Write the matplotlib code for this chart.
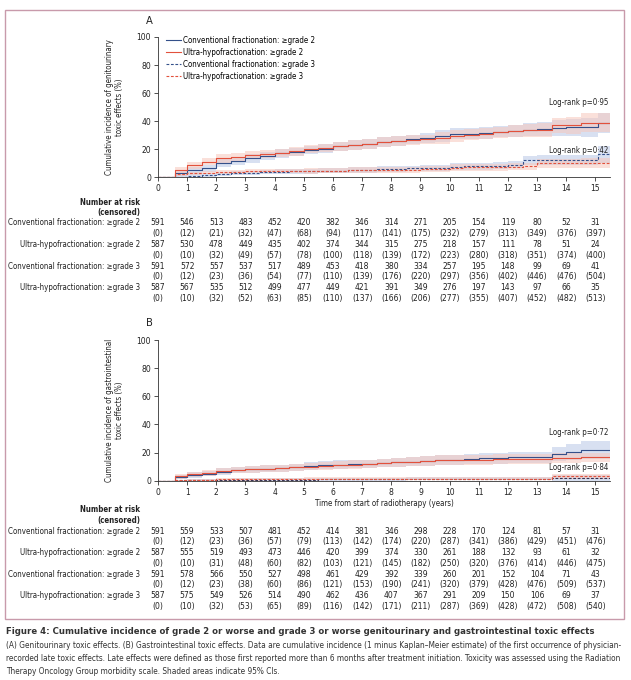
import matplotlib
matplotlib.use("Agg")
import matplotlib.pyplot as plt
import matplotlib.patches as patches
import matplotlib.transforms as transforms
from matplotlib import font_manager
import numpy as np

# look for a condensed face; the original uses a narrow journal font
narrow = None
for fam in ['Liberation Sans Narrow', 'Noto Sans', 'DejaVu Sans', 'Open Sans', 'Roboto', 'Lato', 'Inter']:
    for f in font_manager.fontManager.ttflist:
        if f.name == fam and f.stretch in ('condensed', 'semi-condensed', 'extra-condensed'):
            narrow = (fam, f.stretch)
            break
    if narrow:
        break
if narrow:
    plt.rcParams['font.family'] = [narrow[0], 'DejaVu Sans']
    plt.rcParams['font.stretch'] = narrow[1]
else:
    plt.rcParams['font.family'] = ['Liberation Sans', 'DejaVu Sans']

# ---- data ----
t = [0, 0.5, 0.6, 1, 1.5, 2, 2.5, 3, 3.5, 4, 4.5, 5, 5.5, 6, 6.5, 7, 7.5, 8,
     8.5, 9, 9.5, 10, 10.5, 11, 11.5, 12, 12.5, 13, 13.5, 14, 14.5, 15.1, 15.5]

# A: genitourinary
gu_conv_g2 = [0, 0, 3, 5, 6.5, 10, 11.5, 13.5, 15, 17, 18, 19.5, 20.5, 22, 23, 24, 25, 26,
              27, 28, 29.5, 31, 31, 31.5, 32.5, 33, 34, 34.5, 35, 35.5, 35.5, 38.5, 38.5]
gu_ultra_g2 = [0, 0, 5, 8.5, 11, 13.5, 14.5, 16, 16.5, 17.5, 18.5, 20, 21, 22, 23, 24, 25, 26,
               26.5, 27, 28, 29.5, 30.5, 31, 32, 33, 33.5, 34, 37, 37, 39, 39, 39]
gu_conv_g3 = [0, 0, 0.5, 1.2, 1.8, 2.4, 2.8, 3.3, 3.6, 4, 4.2, 4.3, 4.6, 4.8, 5, 5.2, 5.7, 6.2,
              6.3, 6.5, 6.8, 7.5, 7.8, 8, 8.3, 9, 12, 12.3, 12.3, 12.3, 12.3, 16.5, 16.5]
gu_ultra_g3 = [0, 0, 2, 2.9, 3.3, 3.8, 4, 4.3, 4.4, 4.5, 4.5, 4.5, 4.6, 4.8, 5, 5, 5.1, 5.2,
               5.5, 5.8, 6.2, 6.9, 7, 7.2, 7.3, 7.5, 7.8, 10, 10, 10, 10, 10, 10]
gu_hw_g2 = [0, 0, 2, 2.5, 2.5, 3, 3, 3, 3, 3, 3, 3, 3, 3, 3.5, 3.5, 3.5, 3.5,
            3.5, 3.5, 4, 4, 4, 4, 4, 4.5, 4.5, 5, 5.5, 6, 6.5, 7, 7]
gu_hw_conv_g3 = [0, 0, 1, 1.2, 1.3, 1.5, 1.5, 1.5, 1.6, 1.7, 1.7, 1.8, 1.8, 1.9, 2, 2, 2, 2.1,
                 2.1, 2.2, 2.2, 2.4, 2.4, 2.5, 2.5, 2.7, 3.5, 3.5, 3.5, 3.5, 3.5, 6, 6]
gu_hw_ultra_g3 = [0, 0, 1, 1.2, 1.3, 1.5, 1.5, 1.5, 1.6, 1.7, 1.7, 1.8, 1.8, 1.9, 2, 2, 2, 2.1,
                  2.1, 2.2, 2.2, 2.4, 2.4, 2.5, 2.5, 2.6, 2.6, 3.2, 3.2, 3.3, 3.4, 3.5, 3.5]

# B: gastrointestinal
gi_conv_g2 = [0, 0, 2.5, 4, 5, 6.5, 7.5, 8, 8.5, 9, 9.5, 10.5, 11, 11.5, 12, 12, 12.5, 13,
              13.5, 14, 14.5, 15, 15.5, 16, 16, 16.5, 16.5, 16.5, 19, 20.5, 22, 22, 22]
gi_ultra_g2 = [0, 0, 3, 4.5, 5.5, 7, 7.5, 8, 8.5, 9, 9.5, 10, 10.5, 11, 11.5, 12, 12.5, 13,
               13.5, 14, 14.5, 14.5, 15, 15, 15.5, 15.5, 15.5, 15.5, 16, 16, 16.5, 16.5, 16.5]
gi_conv_g3 = [0, 0, 0.3, 0.5, 0.5, 0.5, 0.7, 0.7, 0.7, 0.8, 0.8, 0.8, 1, 1, 1, 1, 1, 1,
              1.5, 1.5, 1.5, 1.5, 1.5, 1.5, 1.5, 1.5, 1.5, 1.5, 2, 2, 2, 2, 2]
gi_ultra_g3 = [0, 0, 0.2, 0.5, 0.7, 1, 1, 1, 1.2, 1.2, 1.2, 1.5, 1.5, 1.5, 1.5, 1.5, 1.5, 1.5,
               1.5, 1.5, 1.5, 1.5, 1.5, 1.5, 1.5, 1.5, 1.5, 1.5, 3, 3, 3, 3, 3]
gi_hw_conv_g2 = [0, 0, 1.5, 2, 2, 2.2, 2.3, 2.4, 2.5, 2.5, 2.6, 2.7, 2.8, 2.9, 3, 3, 3.1, 3.2,
                 3.3, 3.4, 3.5, 3.6, 3.7, 3.8, 3.9, 4, 4.1, 4.2, 5, 5.5, 6.5, 6.5, 6.5]
gi_hw_ultra_g2 = [0, 0, 1.5, 2, 2, 2.2, 2.3, 2.4, 2.5, 2.5, 2.6, 2.7, 2.8, 2.9, 3, 3, 3.1, 3.2,
                  3.3, 3.4, 3.5, 3.5, 3.5, 3.5, 3.5, 3.5, 3.5, 3.5, 3.5, 3.5, 3.5, 3.5, 3.5]
gi_hw_g3 = [0, 0, 0.5, 0.8, 0.8, 0.9, 1, 1, 1, 1, 1, 1.1, 1.1, 1.1, 1.1, 1.1, 1.1, 1.1,
            1.3, 1.3, 1.3, 1.3, 1.3, 1.3, 1.3, 1.3, 1.3, 1.3, 2, 2, 2, 2, 2]

years = list(range(16))
row_labels = ["Conventional fractionation: \u2265grade 2", "Ultra-hypofractionation: \u2265grade 2",
              "Conventional fractionation: \u2265grade 3", "Ultra-hypofractionation: \u2265grade 3"]

gu_risk = [[591, 546, 513, 483, 452, 420, 382, 346, 314, 271, 205, 154, 119, 80, 52, 31],
           [587, 530, 478, 449, 435, 402, 374, 344, 315, 275, 218, 157, 111, 78, 51, 24],
           [591, 572, 557, 537, 517, 489, 453, 418, 380, 334, 257, 195, 148, 99, 69, 41],
           [587, 567, 535, 512, 499, 477, 449, 421, 391, 349, 276, 197, 143, 97, 66, 35]]
gu_cens = [[0, 12, 21, 32, 47, 68, 94, 117, 141, 175, 232, 279, 313, 349, 376, 397],
           [0, 10, 32, 49, 57, 78, 100, 118, 139, 172, 223, 280, 318, 351, 374, 400],
           [0, 12, 23, 36, 54, 77, 110, 139, 176, 220, 297, 356, 402, 446, 476, 504],
           [0, 10, 32, 52, 63, 85, 110, 137, 166, 206, 277, 355, 407, 452, 482, 513]]
gi_risk = [[591, 559, 533, 507, 481, 452, 414, 381, 346, 298, 228, 170, 124, 81, 57, 31],
           [587, 555, 519, 493, 473, 446, 420, 399, 374, 330, 261, 188, 132, 93, 61, 32],
           [591, 578, 566, 550, 527, 498, 461, 429, 392, 339, 260, 201, 152, 104, 71, 43],
           [587, 575, 549, 526, 514, 490, 462, 436, 407, 367, 291, 209, 150, 106, 69, 37]]
gi_cens = [[0, 12, 23, 36, 57, 79, 113, 142, 174, 220, 287, 341, 386, 429, 451, 476],
           [0, 10, 31, 48, 60, 82, 103, 121, 145, 182, 250, 320, 376, 414, 446, 475],
           [0, 12, 23, 38, 60, 86, 121, 153, 190, 241, 320, 379, 428, 476, 509, 537],
           [0, 10, 32, 53, 65, 89, 116, 142, 171, 211, 287, 369, 428, 472, 508, 540]]

caption_title = ("Figure 4: Cumulative incidence of grade 2 or worse and grade 3 or worse "
                 "genitourinary and gastrointestinal toxic effects")
caption = ["(A) Genitourinary toxic effects. (B) Gastrointestinal toxic effects. Data are cumulative "
           "incidence (1 minus Kaplan\u2013Meier estimate) of the first occurrence of physician-",
           "recorded late toxic effects. Late effects were defined as those first reported more than "
           "6 months after treatment initiation. Toxicity was assessed using the Radiation",
           "Therapy Oncology Group morbidity scale. Shaded areas indicate 95% CIs."]

BLUE = '#34508a'
RED = '#e2513c'
BLUE_FILL = '#b9c8e6'
RED_FILL = '#f6c8bd'
INK = '#222222'
W, H = 631, 680


def fx(px):
    return px / W


def fy(py):
    return 1 - py / H


fig = plt.figure(figsize=(W / 100, H / 100), dpi=100)
renderer = fig.canvas.get_renderer()


def size_for(s, target_px, base=8.0, **kw):
    tmp = fig.text(0, 0, s, fontsize=base, **kw)
    w = tmp.get_window_extent(renderer).width
    tmp.remove()
    return base * target_px / w


FS = min(size_for(row_labels[0], 132), 7.0)
NUM = FS * 1.08
CAP = min(size_for(caption[0], 611), 7.5)
TITLE = min(size_for(caption_title, 585, fontweight='bold'), CAP * 1.25)


def band(ax, y, hw, color):
    y = np.array(y)
    hw = np.array(hw)
    ax.fill_between(t, np.clip(y - hw, 0, None), y + hw, step='post',
                    color=color, alpha=0.55, lw=0)


def style(ax, ylabel):
    ax.set_xlim(0, 15.5)
    ax.set_ylim(0, 100)
    ax.set_xticks(years)
    ax.set_yticks([0, 20, 40, 60, 80, 100])
    for s in ['top', 'right']:
        ax.spines[s].set_visible(False)
    for s in ['left', 'bottom']:
        ax.spines[s].set_linewidth(0.6)
        ax.spines[s].set_color('#333333')
    ax.tick_params(labelsize=NUM, length=3, width=0.6, color='#333333', pad=2,
                   labelcolor=INK)
    ax.set_ylabel(ylabel, fontsize=FS, linespacing=1.15, color=INK)
    ax.yaxis.set_label_coords(-0.075, 0.5)


def risk_table(ax, risk, cens, y0):
    tr = transforms.blended_transform_factory(ax.transData, fig.transFigure)
    fig.text(fx(140), fy(y0 - 21), "Number at risk", ha='right', va='center',
             fontsize=FS, fontweight='bold', color=INK)
    fig.text(fx(140), fy(y0 - 10.5), "(censored)", ha='right', va='center',
             fontsize=FS, fontweight='bold', color=INK)
    for i, lab in enumerate(row_labels):
        yr = y0 + i * 21.6
        fig.text(fx(140), fy(yr), lab, ha='right', va='center', fontsize=FS, color=INK)
        for j, yrs in enumerate(years):
            ax.text(yrs, fy(yr), str(risk[i][j]), transform=tr, ha='center', va='center',
                    fontsize=NUM, color=INK)
            ax.text(yrs, fy(yr + 10.8), "(%d)" % cens[i][j], transform=tr, ha='center',
                    va='center', fontsize=NUM, color=INK)


axA = fig.add_axes([fx(158), fy(177.3), fx(610 - 158), (177.3 - 37) / H])
axB = fig.add_axes([fx(158), fy(480.7), fx(610 - 158), (480.7 - 340) / H])

# panel A
band(axA, gu_conv_g2, gu_hw_g2, BLUE_FILL)
band(axA, gu_ultra_g2, gu_hw_g2, RED_FILL)
band(axA, gu_conv_g3, gu_hw_conv_g3, BLUE_FILL)
band(axA, gu_ultra_g3, gu_hw_ultra_g3, RED_FILL)
axA.step(t, gu_conv_g2, where='post', color=BLUE, lw=0.8, label=row_labels[0])
axA.step(t, gu_ultra_g2, where='post', color=RED, lw=0.8, label=row_labels[1])
axA.step(t, gu_conv_g3, where='post', color=BLUE, lw=0.8, ls=(0, (2.5, 1.5)), label=row_labels[2])
axA.step(t, gu_ultra_g3, where='post', color=RED, lw=0.8, ls=(0, (2.5, 1.5)), label=row_labels[3])
style(axA, "Cumulative incidence of genitourinary\ntoxic effects (%)")
axA.legend(loc='upper left', bbox_to_anchor=(0.01, 1.03), frameon=False, fontsize=FS,
           handlelength=2.0, handletextpad=0.15, labelspacing=0.38, borderaxespad=0)
axA.text(15.45, 53, "Log-rank p=0\u00b795", ha='right', va='center', fontsize=FS, color=INK)
axA.text(15.45, 19, "Log-rank p=0\u00b742", ha='right', va='center', fontsize=FS, color=INK)
fig.text(fx(146), fy(21), "A", ha='left', va='center', fontsize=8, color=INK)

# panel B
band(axB, gi_conv_g2, gi_hw_conv_g2, BLUE_FILL)
band(axB, gi_ultra_g2, gi_hw_ultra_g2, RED_FILL)
band(axB, gi_conv_g3, gi_hw_g3, BLUE_FILL)
band(axB, gi_ultra_g3, gi_hw_g3, RED_FILL)
axB.step(t, gi_conv_g2, where='post', color=BLUE, lw=0.8)
axB.step(t, gi_ultra_g2, where='post', color=RED, lw=0.8)
axB.step(t, gi_conv_g3, where='post', color='#333355', lw=0.8, ls=(0, (2.5, 1.5)))
axB.step(t, gi_ultra_g3, where='post', color=RED, lw=0.8, ls=(0, (2.5, 1.5)))
style(axB, "Cumulative incidence of gastrointestinal\ntoxic effects (%)")
axB.text(15.45, 34, "Log-rank p=0\u00b772", ha='right', va='center', fontsize=FS, color=INK)
axB.text(15.45, 9.7, "Log-rank p=0\u00b784", ha='right', va='center', fontsize=FS, color=INK)
fig.text(fx(146), fy(323), "B", ha='left', va='center', fontsize=8, color=INK)
fig.text(fx(384), fy(503), "Time from start of radiotherapy (years)", ha='center', va='center',
         fontsize=FS, color=INK)

risk_table(axA, gu_risk, gu_cens, 223)
risk_table(axB, gi_risk, gi_cens, 531)

# pink frame
fig.patches.append(patches.Rectangle((fx(5), fy(619)), fx(619), (619 - 10) / H, fill=False,
                                     edgecolor='#c89aab', lw=1.0, transform=fig.transFigure))

# caption
fig.text(fx(6), fy(632), caption_title, ha='left', va='center',
         fontsize=TITLE, fontweight='bold', color='#333333')
for k, line in enumerate(caption):
    fig.text(fx(6), fy(646 + k * 12.5), line, ha='left', va='center', fontsize=CAP, color='#333333')

fig.savefig("out.png", dpi=100)
